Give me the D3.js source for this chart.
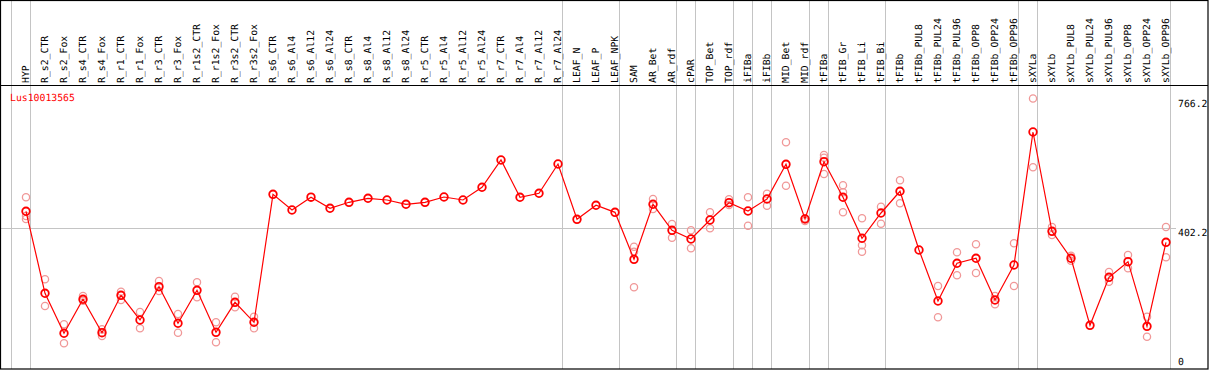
<!DOCTYPE html>
<html>
<head>
<meta charset="utf-8">
<script src="https://cdn.jsdelivr.net/npm/d3@7"></script>
<style>
  body { margin: 0; background: #fff; }
  text { font-family: "DejaVu Sans Mono", monospace; font-size: 9.8px; text-rendering: geometricPrecision; }
</style>
</head>
<body>
<script>
// Expression profile chart for one gene

// Sample names (one column each)
let samples = ["HYP", "R_s2_CTR", "R_s2_Fox", "R_s4_CTR", "R_s4_Fox", "R_r1_CTR", "R_r1_Fox",
    "R_r3_CTR", "R_r3_Fox", "R_r1s2_CTR", "R_r1s2_Fox", "R_r3s2_CTR", "R_r3s2_Fox",
    "R_s6_CTR", "R_s6_Al4", "R_s6_Al12", "R_s6_Al24", "R_s8_CTR", "R_s8_Al4", "R_s8_Al12",
    "R_s8_Al24", "R_r5_CTR", "R_r5_Al4", "R_r5_Al12", "R_r5_Al24", "R_r7_CTR", "R_r7_Al4",
    "R_r7_Al12", "R_r7_Al24", "LEAF_N", "LEAF_P", "LEAF_NPK", "SAM", "AR_Bet", "AR_rdf",
    "cPAR", "TOP_Bet", "TOP_rdf", "iFIBa", "iFIBb", "MID_Bet", "MID_rdf", "tFIBa", "tFIB_Gr",
    "tFIB_Li", "tFIB_Bi", "tFIBb", "tFIBb_PUL8", "tFIBb_PUL24", "tFIBb_PUL96", "tFIBb_OPP8",
    "tFIBb_OPP24", "tFIBb_OPP96", "sXYLa", "sXYLb", "sXYLb_PUL8", "sXYLb_PUL24",
    "sXYLb_PUL96", "sXYLb_OPP8", "sXYLb_OPP24", "sXYLb_OPP96"];

// Mean expression per sample
let means = [448.5, 217.5, 104.8, 200.6, 106.5, 211.8, 142.3, 236.1, 133.0, 225.9, 107.6,
    192.1, 135.8, 496.3, 452.1, 488.2, 456.9, 473.8, 485.1, 480.3, 468.2, 473.8, 488.7,
    480.3, 516.1, 593.0, 487.9, 499.2, 581.7, 425.9, 465.4, 445.6, 313.2, 468.2, 394.9,
    370.4, 423.9, 472.7, 449.3, 483.1, 580.8, 426.8, 588.2, 487.9, 372.4, 443.7, 504.8,
    339.4, 195.8, 302.0, 316.1, 198.6, 297.2, 671.8, 392.1, 316.1, 127.3, 262.5, 306.5,
    124.5, 361.1];

// Individual replicate values per sample
let replicates = [
    [487.9, 435.2, 426.8], [256.9, 181.7], [130.1, 76.6], [209.9, 196.6], [116.1, 97.2],
    [222.0, 198.6], [164.8, 118.9], [252.1, 224.0], [159.2, 106.5], [248.5, 206.2],
    [135.8, 79.4], [207.9, 178.0], [151.5, 118.9],
    [], [], [], [], [], [], [], [], [], [], [], [], [], [], [], [], [], [], [],
    [348.7, 334.6, 234.4], [483.1, 454.9], [412.7, 374.1], [394.9, 344.2], [445.6, 400.6],
    [482.3, 466.2], [487.9, 407.9], [498.0, 464.2], [642.8, 520.6], [428.7, 421.1],
    [607.0, 599.4, 553.5], [521.7, 502.0, 445.6], [428.7, 352.7, 334.6], [461.4, 413.5],
    [535.8, 471.0], [], [238.0, 149.9], [333.0, 268.2], [355.5, 274.6], [209.9, 186.5],
    [358.3, 238.0], [766.2, 572.4], [404.2, 381.7], [323.4, 309.3], [], [277.5, 250.1],
    [325.4, 287.9], [151.5, 95.2], [404.2, 318.9]];

// Samples that start a new group (separator drawn on their left)
let groupStarts = ["HYP", "R_s2_CTR", "LEAF_N", "SAM", "cPAR", "TOP_Bet", "iFIBa", "iFIBb",
    "MID_Bet", "tFIBa", "tFIB_Gr", "tFIBb", "sXYLa", "sXYLb"];

let yTicks = [0, 402.2, 766.2];
let gridValue = 402.2;
let geneName = "Lus10013565";

// SVG params
let svgWidth = 1209;
let svgHeight = 370;
let headerBottom = 85;
let frameRight = 1208;

let svg = d3.select("body")
    .append("svg")
    .attr("width", svgWidth)
    .attr("height", svgHeight);

// Scales
let xScale = d3.scalePoint()
    .domain(samples)
    .range([26, 1166]);
let step = xScale.step();

let yScale = d3.scaleLinear()
    .domain([0, 766.2])
    .range([370.5, 98.5]);

// Group separators
let sepX = groupStarts.map(s => xScale(s) - 15);
sepX.push(xScale(samples[samples.length - 1]) + step - 15);

svg.append("g")
    .selectAll("line")
    .data(sepX)
    .enter()
    .append("line")
    .attr("x1", d => d + 0.5)
    .attr("x2", d => d + 0.5)
    .attr("y1", 0)
    .attr("y2", 369)
    .attr("stroke", "#c4c4c4")
    .attr("stroke-width", 1);

// Horizontal grid line
svg.append("line")
    .attr("x1", 0)
    .attr("x2", 1176)
    .attr("y1", Math.round(yScale(gridValue)) + 0.5)
    .attr("y2", Math.round(yScale(gridValue)) + 0.5)
    .attr("stroke", "#c4c4c4")
    .attr("stroke-width", 1);

// Frame and header line
svg.append("rect")
    .attr("x", 0.5)
    .attr("y", 0.5)
    .attr("width", frameRight - 0.5)
    .attr("height", 368.5)
    .attr("fill", "none")
    .attr("stroke", "black")
    .attr("stroke-width", 1.2);

svg.append("line")
    .attr("x1", 0)
    .attr("x2", frameRight)
    .attr("y1", headerBottom + 0.5)
    .attr("y2", headerBottom + 0.5)
    .attr("stroke", "black")
    .attr("stroke-width", 1.2);

// Rotated sample labels
svg.append("g")
    .selectAll("text")
    .data(samples)
    .enter()
    .append("text")
    .attr("transform", d => `translate(${xScale(d)}, ${headerBottom - 2}) rotate(-90)`)
    .attr("dy", "0.3em")
    .attr("fill", "black")
    .text(d => d);

// Y tick labels on the right
svg.append("g")
    .selectAll("text")
    .data(yTicks)
    .enter()
    .append("text")
    .attr("x", 1178)
    .attr("y", d => Math.min(yScale(d) + 8, 365))
    .attr("fill", "black")
    .text(d => d);

// Gene name
svg.append("text")
    .attr("x", 10)
    .attr("y", 101)
    .attr("fill", "red")
    .text(geneName);

// Replicate points
let repPoints = [];
replicates.forEach(function(reps, i) {
    reps.forEach(function(v) {
        repPoints.push({ name: samples[i], value: v });
    });
});

svg.append("g")
    .selectAll("circle")
    .data(repPoints)
    .enter()
    .append("circle")
    .attr("cx", d => xScale(d.name))
    .attr("cy", d => yScale(d.value))
    .attr("r", 3.6)
    .attr("fill", "none")
    .attr("stroke", "#f09898")
    .attr("stroke-width", 1.3);

// Mean line
let line = d3.line()
    .x((d, i) => xScale(samples[i]))
    .y(d => yScale(d));

svg.append("path")
    .datum(means)
    .attr("d", line)
    .attr("fill", "none")
    .attr("stroke", "red")
    .attr("stroke-width", 1.2);

// Mean points
svg.append("g")
    .selectAll("circle")
    .data(means)
    .enter()
    .append("circle")
    .attr("cx", (d, i) => xScale(samples[i]))
    .attr("cy", d => yScale(d))
    .attr("r", 3.8)
    .attr("fill", "none")
    .attr("stroke", "red")
    .attr("stroke-width", 1.8);
</script>
</body>
</html>
